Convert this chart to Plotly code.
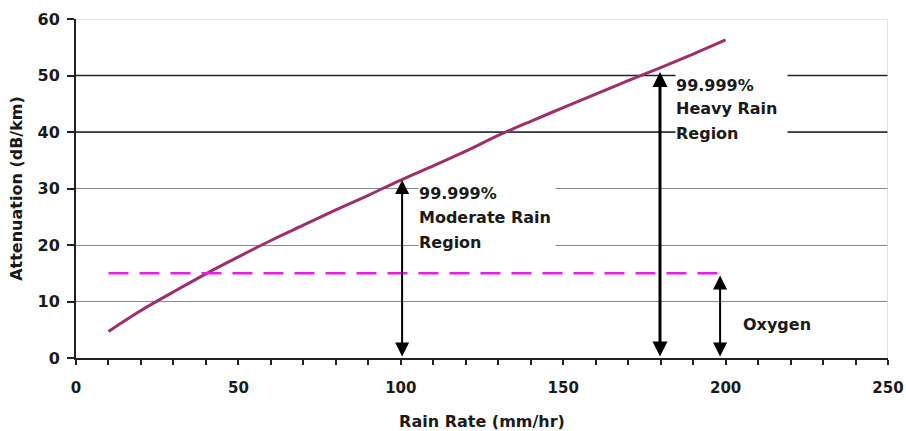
import plotly.graph_objs as go

# attenuation curve
rain_rate = [10, 20, 30, 40, 50, 60, 70, 80, 90, 100, 110, 120, 130, 140, 150, 160, 170, 180, 190, 200]
attenuation = [4.7, 8.4, 11.7, 14.9, 17.9, 20.8, 23.5, 26.2, 28.8, 31.5, 34.0, 36.6, 39.4, 41.9, 44.3,
               46.7, 49.1, 51.4, 53.8, 56.3]

oxygen_x = [10, 200]
oxygen_level = [15, 15]

# double arrows: x position, top value
arrow_x = [100.4, 179.8, 198.3]
arrow_top = [31.5, 50.6, 14.6]
arrow_width = [2, 3, 2]

FONT = "DejaVu Sans, Liberation Sans, Arial, sans-serif"
TEXT_COLOR = "#1a1a1a"

fig = go.Figure()

fig.add_trace(go.Scatter(x=rain_rate, y=attenuation, mode="lines",
                         line=dict(color="#9c2f6c", width=3, shape="spline"),
                         showlegend=False, hoverinfo="skip"))
fig.add_trace(go.Scatter(x=oxygen_x, y=oxygen_level, mode="lines",
                         line=dict(color="#e61ee6", width=2.5, dash="20px,11px"),
                         showlegend=False, hoverinfo="skip"))

# heavier grid lines at 40 and 50, light one at top
for level, color, width in [(40, "#222222", 1.5), (50, "#222222", 1.5), (60, "#cfcfcf", 1.2)]:
    fig.add_shape(type="line", xref="x", yref="y", x0=0, x1=250, y0=level, y1=level,
                  line=dict(color=color, width=width), layer="between")
fig.add_shape(type="line", xref="x", yref="y", x0=250, x1=250, y0=0, y1=60,
              line=dict(color="#cfcfcf", width=1.2), layer="between")

for x, top, w in zip(arrow_x, arrow_top, arrow_width):
    fig.add_annotation(x=x, y=top, ax=x, ay=0, xref="x", yref="y", axref="x", ayref="y",
                       text="", showarrow=True, arrowhead=2, arrowside="end+start",
                       arrowsize=1.4 if w == 2 else 1.0, arrowwidth=w, arrowcolor="black")

# label blocks (one box per line so the white backgrounds form a block)
labels = [
    (["99.999%", "Moderate Rain", "Region"], 105.4, [29.2, 24.8, 20.5], 136),
    (["99.999%", "Heavy Rain", "Region"], 184.5, [48.3, 44.1, 39.8], 111),
    (["Oxygen"], 205.0, [6.0], 75),
]
for lines, x, ys, w in labels:
    for txt, y in zip(lines, ys):
        fig.add_annotation(x=x, y=y, xref="x", yref="y", text=txt, showarrow=False,
                           xanchor="left", yanchor="middle", align="left",
                           width=w, height=25 if len(lines) > 1 else 22, borderpad=0,
                           bgcolor="white" if len(lines) > 1 else "rgba(0,0,0,0)",
                           font=dict(family=FONT, size=16, color=TEXT_COLOR, weight="bold"))

fig.update_xaxes(range=[0, 250], dtick=50, showgrid=False, zeroline=False, automargin=False,
                 showline=True, linecolor="#222222", linewidth=2,
                 ticks="outside", ticklen=5, tickwidth=1.5, tickcolor="#222222",
                 ticklabelstandoff=10,
                 minor=dict(dtick=10, ticks="outside", ticklen=5, tickwidth=1.5, tickcolor="#222222"),
                 tickfont=dict(family=FONT, size=15, color=TEXT_COLOR, weight="bold"),
                 title=dict(text="Rain Rate (mm/hr)", standoff=20,
                            font=dict(family=FONT, size=16, color=TEXT_COLOR, weight="bold")))
fig.update_yaxes(range=[0, 60], dtick=10, showgrid=True, gridcolor="#8a8a8a", gridwidth=1,
                 zeroline=False, showline=True, linecolor="#222222", linewidth=2, automargin=False,
                 ticks="outside", ticklen=7, tickwidth=1.5, tickcolor="#222222",
                 ticklabelstandoff=4,
                 tickfont=dict(family=FONT, size=16, color=TEXT_COLOR, weight="bold"),
                 title=dict(text="Attenuation (dB/km)", standoff=11,
                            font=dict(family=FONT, size=16, color=TEXT_COLOR, weight="bold")))

fig.update_layout(width=906, height=431, paper_bgcolor="white", plot_bgcolor="white",
                  margin=dict(l=76, r=18, t=19, b=73))

# drop the page's default body margin so the figure fills the window
fig.write_html("out.html", config={"displayModeBar": False},
               post_script="document.body.style.margin='0';document.body.style.overflow='hidden';")
